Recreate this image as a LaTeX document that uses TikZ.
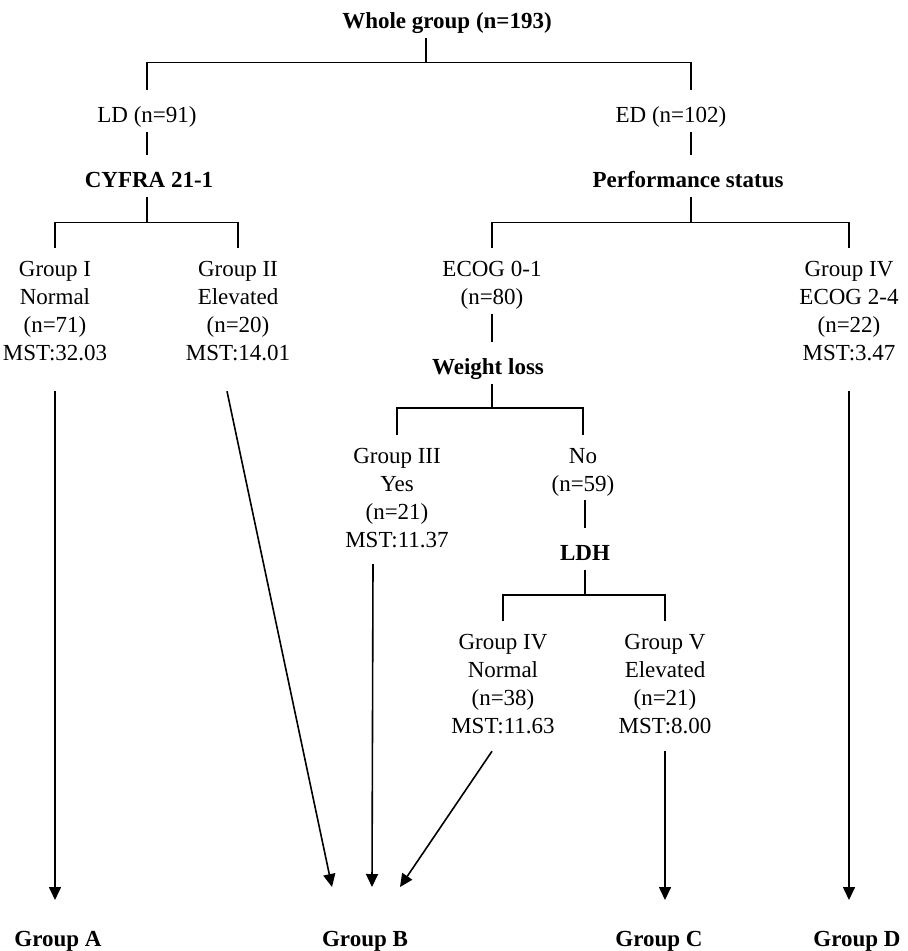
\documentclass[tikz,border=0pt]{standalone}
\usepackage{fontspec}
\setmainfont{Liberation Serif}
\usetikzlibrary{arrows.meta}

\begin{document}
\begin{tikzpicture}[x=1pt,y=-1pt,line width=1.6pt] % pixel grid, y down
\tikzstyle{txt}=[font=\fontsize{23}{28}\selectfont, align=center, inner sep=0pt, anchor=north, execute at begin node=\strut, execute at end node=\strut]
\tikzstyle{head}=[txt, font=\fontsize{23}{28}\selectfont\bfseries]
\tikzstyle{stub}=[shorten >=12.5pt]
\tikzstyle{drop}=[shorten <=12.5pt, shorten >=12.5pt]
\tikzstyle{goes}=[-{Triangle[width=12pt,length=13pt]}]

\useasboundingbox (0,0) rectangle (908,951);

\node[head] (whole) at (447,8.4) {Whole group (n=193)}; % root
\coordinate (jwhole) at (426,62.5);
\node[txt] (ld) at (147,102.4) {LD (n=91)}; % LD
\node[txt] (ed) at (671,102.4) {ED (n=102)}; % ED
\coordinate (edcol) at (691,0);
\draw (jwhole |- whole.south) -- (jwhole);
\draw[drop] (ld.north) |- (jwhole) -| (edcol |- ed.north);

\node[head] (cyfra) at (149,167.4) {CYFRA 21-1}; % left split
\node[head] (perf) at (688,167.4) {Performance status}; % right split
\draw[stub] (ld.south) -- (ld.south |- cyfra.north);
\draw[stub] (edcol |- ed.south) -- (edcol |- perf.north);

\coordinate (jcyfra) at (147,222.5);
\coordinate (jperf) at (691,222.5);
\node[txt] (g1) at (55,260.4) {Group I\\Normal\\(n=71)\\MST:32.03};
\node[txt] (g2) at (238,260.4) {Group II\\Elevated\\(n=20)\\MST:14.01};
\node[txt] (ecog) at (492,260.4) {ECOG 0-1\\(n=80)};
\node[txt] (g4) at (849,260.4) {Group IV\\ECOG 2-4\\(n=22)\\MST:3.47};
\draw (jcyfra |- cyfra.south) -- (jcyfra);
\draw[drop] (g1.north) |- (jcyfra) -| (g2.north);
\draw (jperf |- perf.south) -- (jperf);
\draw[drop] (ecog.north) |- (jperf) -| (g4.north);

\node[head] (weight) at (488,354.4) {Weight loss}; % weight loss split
\draw[stub] (ecog.south) -- (ecog.south |- weight.north);
\coordinate (jweight) at (492,408);
\node[txt] (g3) at (397,447.4) {Group III\\Yes\\(n=21)\\MST:11.37};
\node[txt] (no) at (583,447.4) {No\\(n=59)};
\draw (jweight |- weight.south) -- (jweight);
\draw[drop] (g3.north) |- (jweight) -| (no.north);

\node[head] (ldh) at (585,540.4) {LDH}; % LDH split
\draw[stub] (ldh.north |- no.south) -- (ldh.north);
\coordinate (jldh) at (585,595);
\node[txt] (g4b) at (503,633.4) {Group IV\\Normal\\(n=38)\\MST:11.63};
\node[txt] (g5) at (665,633.4) {Group V\\Elevated\\(n=21)\\MST:8.00};
\draw (ldh.south) -- (jldh);
\draw[drop] (g4b.north) |- (jldh) -| (g5.north);

% final groups
\node[head] (ga) at (58,926.4) {Group A};
\node[head] (gb) at (365,926.4) {Group B};
\node[head] (gc) at (659,926.4) {Group C};
\node[head] (gd) at (857,926.4) {Group D};

\draw[goes, shorten <=21.6pt, shorten >=26.4pt] (g1.south) -- (g1.south |- ga.north);
\draw[goes] ([xshift=-11pt,yshift=-21.6pt]g2.south) -- ([xshift=-33pt,yshift=39.4pt]gb.north);
\draw[goes] ([xshift=-24pt,yshift=-7.6pt]g3.south) -- ([xshift=7pt,yshift=39.4pt]gb.north);
\draw[goes] ([xshift=-11pt,yshift=-8.6pt]g4b.south) -- ([xshift=35pt,yshift=39.4pt]gb.north);
\draw[goes, shorten <=8.6pt, shorten >=26.4pt] (g5.south) -- (g5.south |- gc.north);
\draw[goes, shorten <=21.6pt, shorten >=26.4pt] (g4.south) -- (g4.south |- gd.north);
\end{tikzpicture}
\end{document}
